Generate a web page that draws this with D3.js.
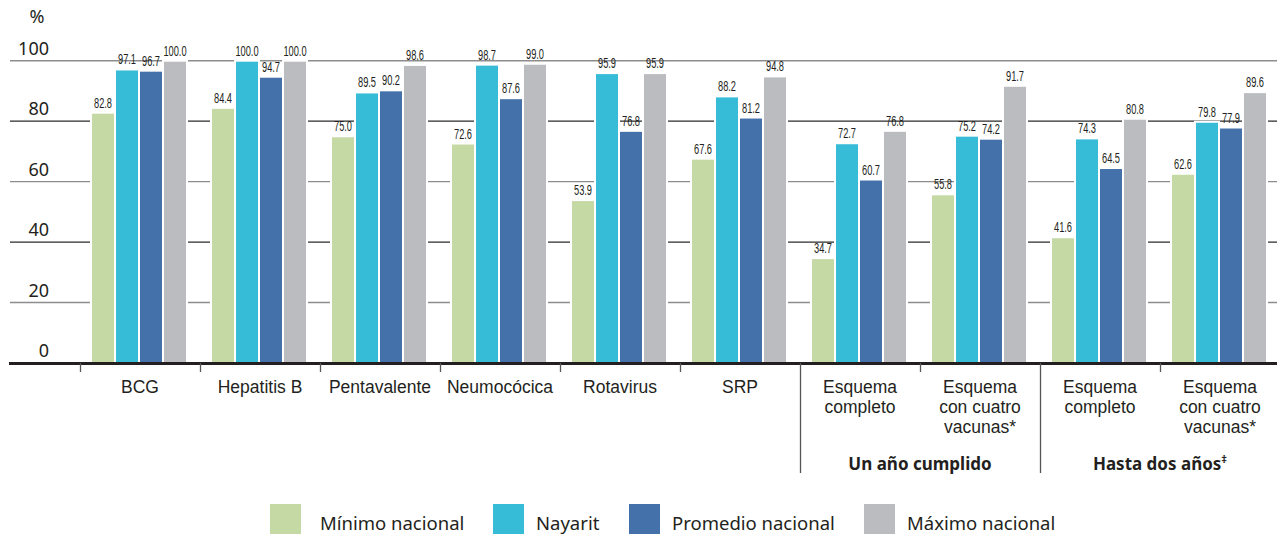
<!DOCTYPE html>
<html>
<head>
<meta charset="utf-8">
<script src="https://cdn.jsdelivr.net/npm/d3@7"></script>
<style>
  html, body { margin: 0; padding: 0; background: #fff; }
  svg { display: block; }
</style>
</head>
<body>
<svg id="chart" width="1277" height="536"></svg>
<script>
// ---------- DATA ----------
const categories = ["BCG", "Hepatitis B", "Pentavalente", "Neumocócica", "Rotavirus", "SRP",
  "Esquema completo|1", "Esquema con cuatro vacunas*|1", "Esquema completo|2", "Esquema con cuatro vacunas*|2"];
const categoryLines = [["BCG"], ["Hepatitis B"], ["Pentavalente"], ["Neumocócica"], ["Rotavirus"], ["SRP"],
  ["Esquema", "completo"], ["Esquema", "con cuatro", "vacunas*"], ["Esquema", "completo"], ["Esquema", "con cuatro", "vacunas*"]];
const seriesNames = ["Mínimo nacional", "Nayarit", "Promedio nacional", "Máximo nacional"];
const minimoNacional   = [82.8, 84.4, 75.0, 72.6, 53.9, 67.6, 34.7, 55.8, 41.6, 62.6];
const nayarit          = [97.1, 100.0, 89.5, 98.7, 95.9, 88.2, 72.7, 75.2, 74.3, 79.8];
const promedioNacional = [96.7, 94.7, 90.2, 87.6, 76.8, 81.2, 60.7, 74.2, 64.5, 77.9];
const maximoNacional   = [100.0, 100.0, 98.6, 99.0, 95.9, 94.8, 76.8, 91.7, 80.8, 89.6];
const seriesValues = [minimoNacional, nayarit, promedioNacional, maximoNacional];
const yTicks = [0, 20, 40, 60, 80, 100];
const groupLabels = [
  { text: "Un año cumplido", first: 6, last: 7, sup: "" },
  { text: "Hasta dos años", first: 8, last: 9, sup: "‡" }
];

// ---------- STYLE / LAYOUT ----------
const colors = ["#c5d9a4", "#37bcd8", "#4571aa", "#bbbcc0"];
const textColor = "#231f20";
const font = "'Noto Sans', 'Open Sans', sans-serif";
const catFont = "'Liberation Sans', Arial, sans-serif";
const narrowFont = "'Liberation Sans', Arial, sans-serif";

const svg = d3.select("#chart");
const x0 = 80, x1 = 1280, yBase = 363, yTop = 60.7;

const x = d3.scaleBand().domain(categories).range([x0, x1]).padding(0);
const xs = d3.scaleBand().domain(seriesNames).range([11, 107]).padding(0);
const y = d3.scaleLinear().domain([0, 100]).range([yBase, yTop]);

// gridlines
const grid = svg.append("g");
yTicks.filter(t => t > 0).forEach(t => {
  const dark = (t / 20) % 2 === 0;
  grid.append("line")
    .attr("x1", 10).attr("x2", 1277)
    .attr("y1", y(t)).attr("y2", y(t))
    .attr("stroke", dark ? "#2a2a2a" : "#8d8d8d")
    .attr("stroke-width", dark ? 1.1 : 1.4);
});

// y tick labels
svg.append("g").selectAll("text").data(yTicks).join("text")
  .attr("x", 49).attr("y", d => y(d) - 6)
  .attr("text-anchor", "end")
  .attr("font-family", font).attr("font-size", 18)
  .attr("fill", textColor)
  .text(d => d);

svg.append("text").attr("x", 37).attr("y", 23).attr("text-anchor", "middle")
  .attr("font-family", font).attr("font-size", 18).attr("fill", textColor).text("%");

// bars
const rows = categories.map((c, i) => ({ cat: c, vals: seriesNames.map((s, j) => ({ s, j, v: seriesValues[j][i] })) }));
const gCat = svg.append("g").selectAll("g").data(rows).join("g")
  .attr("transform", d => `translate(${x(d.cat)},0)`);

gCat.selectAll("rect").data(d => d.vals).join("rect")
  .attr("x", d => xs(d.s))
  .attr("y", d => y(d.v))
  .attr("width", xs.bandwidth())
  .attr("height", d => yBase - y(d.v))
  .attr("fill", d => colors[d.j])
  .attr("stroke", "#fff").attr("stroke-width", 2);

gCat.selectAll("text.val").data(d => d.vals).join("text")
  .attr("class", "val")
  .attr("transform", d => `translate(${xs(d.s) + xs.bandwidth() / 2},${y(d.v) - 5}) scale(0.64,1)`)
  .attr("text-anchor", "middle")
  .attr("font-family", narrowFont).attr("font-size", 14.5)
  .attr("fill", textColor)
  .text(d => d.v.toFixed(1));

// baseline
svg.append("line").attr("x1", 9).attr("x2", 1277).attr("y1", yBase + 0.5).attr("y2", yBase + 0.5)
  .attr("stroke", textColor).attr("stroke-width", 3);

// category ticks
const boundaries = categories.map(c => x(c)).concat([x1]);
const longIdx = groupLabels.map(g => g.first);
svg.append("g").selectAll("line").data(boundaries).join("line")
  .attr("x1", d => d + 0.5).attr("x2", d => d + 0.5)
  .attr("y1", yBase)
  .attr("y2", (d, i) => longIdx.includes(i) ? 473 : 372)
  .attr("stroke", "#555").attr("stroke-width", 1.3);

// category labels (one text element per line)
const catG = svg.append("g");
categories.forEach((c, i) => {
  categoryLines[i].forEach((line, k) => {
    catG.append("text")
      .attr("x", x(c) + x.bandwidth() / 2)
      .attr("y", 393 + k * 20)
      .attr("text-anchor", "middle")
      .attr("font-family", catFont).attr("font-size", 17.5)
      .attr("fill", textColor)
      .text(line);
  });
});

// group labels
groupLabels.forEach(g => {
  const cx = (x(categories[g.first]) + x(categories[g.last]) + x.bandwidth()) / 2;
  const t = svg.append("text")
    .attr("x", cx).attr("y", 470)
    .attr("text-anchor", "middle")
    .attr("font-family", font).attr("font-size", 17).attr("font-weight", "bold")
    .attr("fill", textColor)
    .text(g.text);
  if (g.sup) t.append("tspan").attr("dy", -7).attr("font-size", 11).text(g.sup);
});

// legend
const legendX = [270, 493, 629, 864];
const lg = svg.append("g").selectAll("g").data(seriesNames).join("g")
  .attr("transform", (d, i) => `translate(${legendX[i]},504)`);
lg.append("rect").attr("width", 31).attr("height", 30).attr("fill", (d, i) => colors[i]);
lg.append("text").attr("x", (d, i) => i === 0 ? 50 : 43).attr("y", 26)
  .attr("font-family", font).attr("font-size", 18.5).attr("fill", textColor)
  .text(d => d);
</script>
</body>
</html>
